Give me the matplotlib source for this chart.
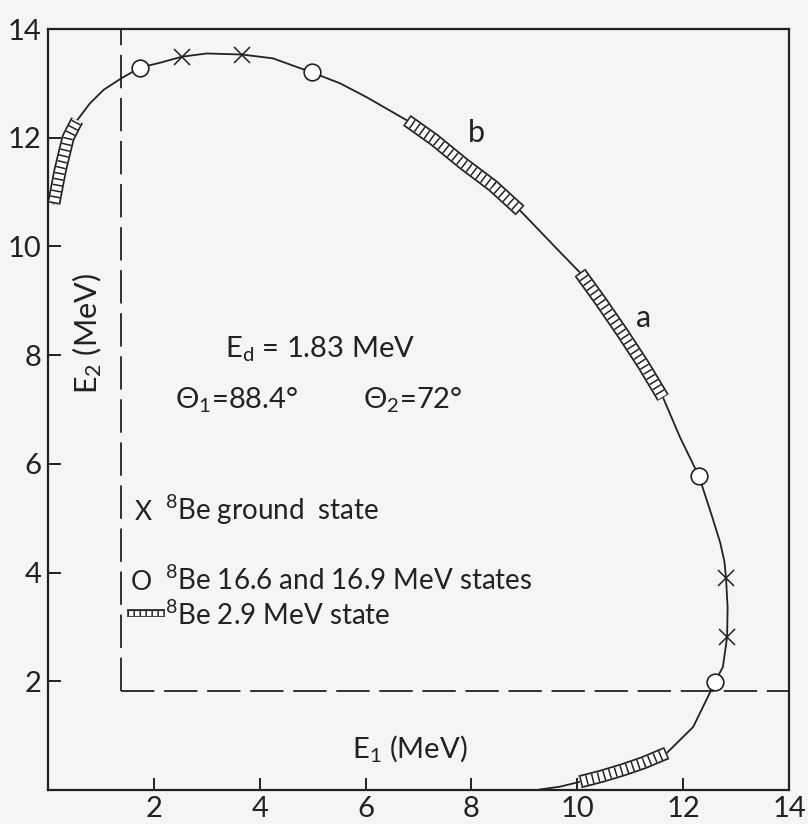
import numpy as np
import matplotlib
matplotlib.use("Agg")
from matplotlib import pyplot as plt

plt.rcParams['font.family'] = ['Lato', 'DejaVu Sans']
plt.rcParams['mathtext.fontset'] = 'custom'
plt.rcParams['mathtext.rm'] = 'Lato'
plt.rcParams['mathtext.it'] = 'Lato'
plt.rcParams['mathtext.default'] = 'rm'
plt.rcParams['lines.scale_dashes'] = False

INK = '#222222'
PAPER = '#f5f5f3'

# kinematic locus (E1, E2 in MeV)
curve_e1 = [0.11, 0.23, 0.38, 0.55, 0.79, 1.05, 1.38, 1.74, 2.12, 2.53, 3.0, 3.67, 4.25,
            4.99, 5.52, 6.03, 6.78, 7.84, 8.92, 9.67, 10.05, 10.86, 11.62, 11.94, 12.3,
            12.55, 12.7, 12.78, 12.81, 12.84, 12.83, 12.75, 12.6, 12.5, 12.19, 11.69,
            10.86, 10.05, 9.67, 9.3]
curve_e2 = [10.79, 11.40, 12.0, 12.32, 12.63, 12.88, 13.09, 13.29, 13.38, 13.49, 13.55,
            13.53, 13.46, 13.2, 13.0, 12.74, 12.32, 11.53, 10.66, 9.9, 9.52, 8.4, 7.22,
            6.49, 5.77, 5.02, 4.55, 4.2, 3.9, 3.35, 2.81, 2.26, 1.99, 1.78, 1.16, 0.68,
            0.37, 0.15, 0.06, 0.01]

# 8Be ground state (x) and 16.6 / 16.9 MeV states (o)
ground_e1 = [2.53, 3.67, 12.81, 12.83]
ground_e2 = [13.49, 13.53, 3.9, 2.81]
excited_e1 = [1.74, 4.99, 12.3, 12.6]
excited_e2 = [13.29, 13.2, 5.77, 1.99]

# 8Be 2.9 MeV state bands
band_left_e1 = [0.11, 0.23, 0.38, 0.55]
band_left_e2 = [10.79, 11.40, 12.0, 12.32]
band_b_e1 = [6.78, 7.3, 7.84, 8.4, 8.92]
band_b_e2 = [12.32, 11.96, 11.53, 11.12, 10.66]
band_a_e1 = [10.05, 10.45, 10.86, 11.25, 11.62]
band_a_e2 = [9.52, 8.98, 8.4, 7.82, 7.22]
band_low_e1 = [11.69, 11.25, 10.86, 10.45, 10.05]
band_low_e2 = [0.68, 0.5, 0.37, 0.25, 0.15]

cut_e1 = 1.38
cut_e2 = 1.82

ticks = [2, 4, 6, 8, 10, 12, 14]


def band(ax, x, y, w=9.5, inner=7.0):
    ax.plot(x, y, color=INK, lw=w, solid_capstyle='butt', zorder=4)
    ax.plot(x, y, color='white', lw=inner, solid_capstyle='butt', zorder=5)
    ax.plot(x, y, color=INK, lw=inner, dashes=(1.1, 3.2), dash_capstyle='butt', zorder=6)


fig = plt.figure(figsize=(8.08, 8.24), dpi=100, facecolor=PAPER)
ax = fig.add_axes([0.0594, 0.0413, 0.9171, 0.9235], facecolor=PAPER)

ax.plot([cut_e1, cut_e1], [cut_e2, 14], color=INK, lw=1.3, dashes=(24, 7), zorder=2)
ax.plot([cut_e1, 14], [cut_e2, cut_e2], color=INK, lw=1.3, dashes=(24, 7), zorder=2)

ax.plot(curve_e1, curve_e2, color=INK, lw=1.3, zorder=3)
for bx, by in [(band_left_e1, band_left_e2), (band_b_e1, band_b_e2),
               (band_a_e1, band_a_e2), (band_low_e1, band_low_e2)]:
    band(ax, bx, by)

ax.plot(excited_e1, excited_e2, 'o', ms=12, mfc='white', mec=INK, mew=1.2, zorder=7)
ax.plot(ground_e1, ground_e2, 'x', ms=11, mec=INK, mew=1.1, zorder=7)

ax.text(8.09, 12.08, 'b', fontsize=22, ha='center', va='center', color=INK)
ax.text(11.26, 8.68, 'a', fontsize=22, ha='center', va='center', color=INK)

ax.text(3.34, 7.96, r'$\mathrm{E_d}$ = 1.83 MeV', fontsize=21, color=INK, va='baseline')
ax.text(2.40, 7.02, r'$\Theta_1$=88.4°', fontsize=21, color=INK, va='baseline')
ax.text(5.95, 7.02, r'$\Theta_2$=72°', fontsize=21, color=INK, va='baseline')

ax.text(1.64, 4.96, 'X', fontsize=19, color=INK, va='baseline')
ax.text(2.21, 4.96, r'$^{8}$Be ground  state', fontsize=20, color=INK, va='baseline')
ax.text(1.57, 3.68, 'O', fontsize=19, color=INK, va='baseline')
ax.text(2.21, 3.68, r'$^{8}$Be 16.6 and 16.9 MeV states', fontsize=20, color=INK, va='baseline')
band(ax, [1.49, 2.21], [3.25, 3.25], w=5.5, inner=3.5)
ax.text(2.21, 3.03, r'$^{8}$Be 2.9 MeV state', fontsize=20, color=INK, va='baseline')

ax.text(5.74, 0.59, r'$\mathrm{E_1}$ (MeV)', fontsize=21, color=INK, va='baseline')
ax.text(0.74, 8.4, r'$\mathrm{E_2}$ (MeV)', fontsize=22, color=INK, rotation=90,
        ha='center', va='center')

ax.set_xlim(0, 14)
ax.set_ylim(0, 14)
ax.set_xticks(ticks)
ax.set_yticks(ticks)
ax.tick_params(direction='in', length=9, width=1.4, labelsize=21, colors=INK)
ax.tick_params(axis='x', pad=4)
ax.tick_params(axis='y', pad=5)
for s in ax.spines.values():
    s.set_linewidth(1.6)
    s.set_color(INK)

fig.savefig('out.png', dpi=100, facecolor=PAPER)
